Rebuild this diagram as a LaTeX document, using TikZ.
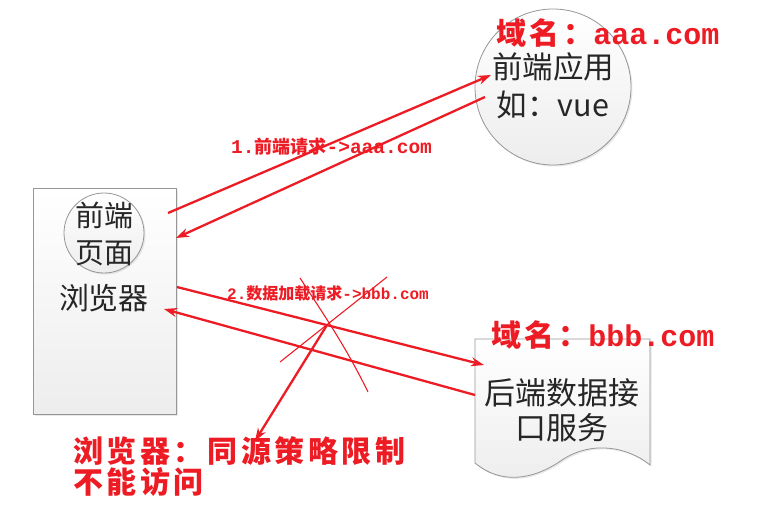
\documentclass[tikz,border=0pt]{standalone}
\usepackage{fontspec}
\newfontfamily\cjk{Noto Sans CJK SC}
\newfontfamily\cjksp{Noto Sans CJK SC}[LetterSpace=12]
\newfontfamily\monob{Liberation Mono}
\usetikzlibrary{arrows.meta,shadows}
\definecolor{rd}{RGB}{237,28,36}
\definecolor{edge}{RGB}{150,150,150}
\begin{document}
\begin{tikzpicture}[x=1pt,y=-1pt,
  shapebox/.style={draw=edge, line width=0.8pt, top color=white, bottom color=gray!14,
    drop shadow={opacity=0.18, shadow xshift=1.5pt, shadow yshift=-1.5pt}},
  redarrow/.style={draw=rd, line width=2.3pt, -{Stealth[length=13pt,width=9pt]}},
  handline/.style={draw=rd, line width=1.1pt},
  blacktext/.style={text=black!85, align=center, inner sep=0pt},
  redtext/.style={text=rd, inner sep=0pt, font=\cjk\bfseries},
]
\useasboundingbox (0,0) rectangle (780,522);

% shapes
\node[shapebox, rectangle, minimum width=143pt, minimum height=226pt, inner sep=0pt, anchor=north west] (browser) at (33,188) {};
\node[shapebox, circle, minimum size=80pt, inner sep=0pt] (page) at (104,233) {};
\node[shapebox, circle, minimum size=156pt, inner sep=0pt] (front) at (553,87) {};
\path[shapebox] (475,339) -- (650,339) -- (650,465)
   .. controls (628,447) and (592,440) .. (562,460)
   .. controls (532,481) and (500,484) .. (475,463) -- cycle;
\coordinate (back) at (562,400);

% texts in shapes
\node[blacktext, font={\cjk\fontsize{29}{37}\selectfont}] (pagetext) at (104,234) {前端\\页面};
\node[blacktext, font={\cjk\fontsize{30}{34}\selectfont}] (browsertext) at (104,298) {浏览器};
\node[blacktext, font={\cjk\fontsize{30.5}{38}\selectfont}] (fronttext) at (553,86) {前端应用\\如：vue};
\node[blacktext, font={\cjk\fontsize{31}{35}\selectfont}] (backtext) at (562,410) {后端数据接\\口服务};

% connector end points
\coordinate (a1s) at (168,213); \coordinate (a1e) at (491,75);
\coordinate (a2s) at (485,97);  \coordinate (a2e) at (176,238);
\coordinate (a3s) at (177,287); \coordinate (a3e) at (484,365);
\coordinate (a4s) at (475,395); \coordinate (a4e) at (164,309);
\coordinate (cross) at (327,325); \coordinate (a5e) at (255,441);
\coordinate (c1a) at (280,362); \coordinate (c1b) at (387,277);
\coordinate (c2a) at (300,278); \coordinate (c2b) at (368,392);

% arrows
\draw[redarrow] (a1s) -- (a1e);
\draw[redarrow] (a2s) -- (a2e);
\draw[redarrow] (a3s) -- (a3e);
\draw[redarrow] (a4s) -- (a4e);
\draw[redarrow] (cross) -- (a5e);
\draw[handline] (c1a) -- (c1b);
\draw[handline] (c2a) .. controls (322,312) and (345,345) .. (c2b);

% red labels
\node[redtext, anchor=west, font={\cjksp\bfseries\fontsize{30}{34}\selectfont}] (doma) at (496,33) {域名：{\monob\bfseries aaa.com}};
\node[redtext, anchor=west, font={\cjksp\bfseries\fontsize{30}{34}\selectfont}] (domb) at (491,335) {域名：{\monob\bfseries bbb.com}};
\node[redtext, anchor=west, font={\cjk\bfseries\fontsize{18}{20}\selectfont}] (lab1) at (231,147) {{\monob\bfseries\fontsize{19.5}{20}\selectfont 1.}前端请求{\monob\bfseries\fontsize{19.5}{20}\selectfont ->aaa.com}};
\node[redtext, anchor=west, font={\cjk\bfseries\fontsize{16}{18}\selectfont}] (lab2) at (227,293) {{\monob\bfseries\fontsize{16}{18}\selectfont 2.}数据加载请求{\monob\bfseries\fontsize{16}{18}\selectfont ->bbb.com}};
\node[redtext, anchor=west, align=left, font={\cjksp\bfseries\fontsize{30}{31}\selectfont}] (note) at (73,467) {浏览器：同源策略限制\\不能访问};
\end{tikzpicture}
\end{document}
